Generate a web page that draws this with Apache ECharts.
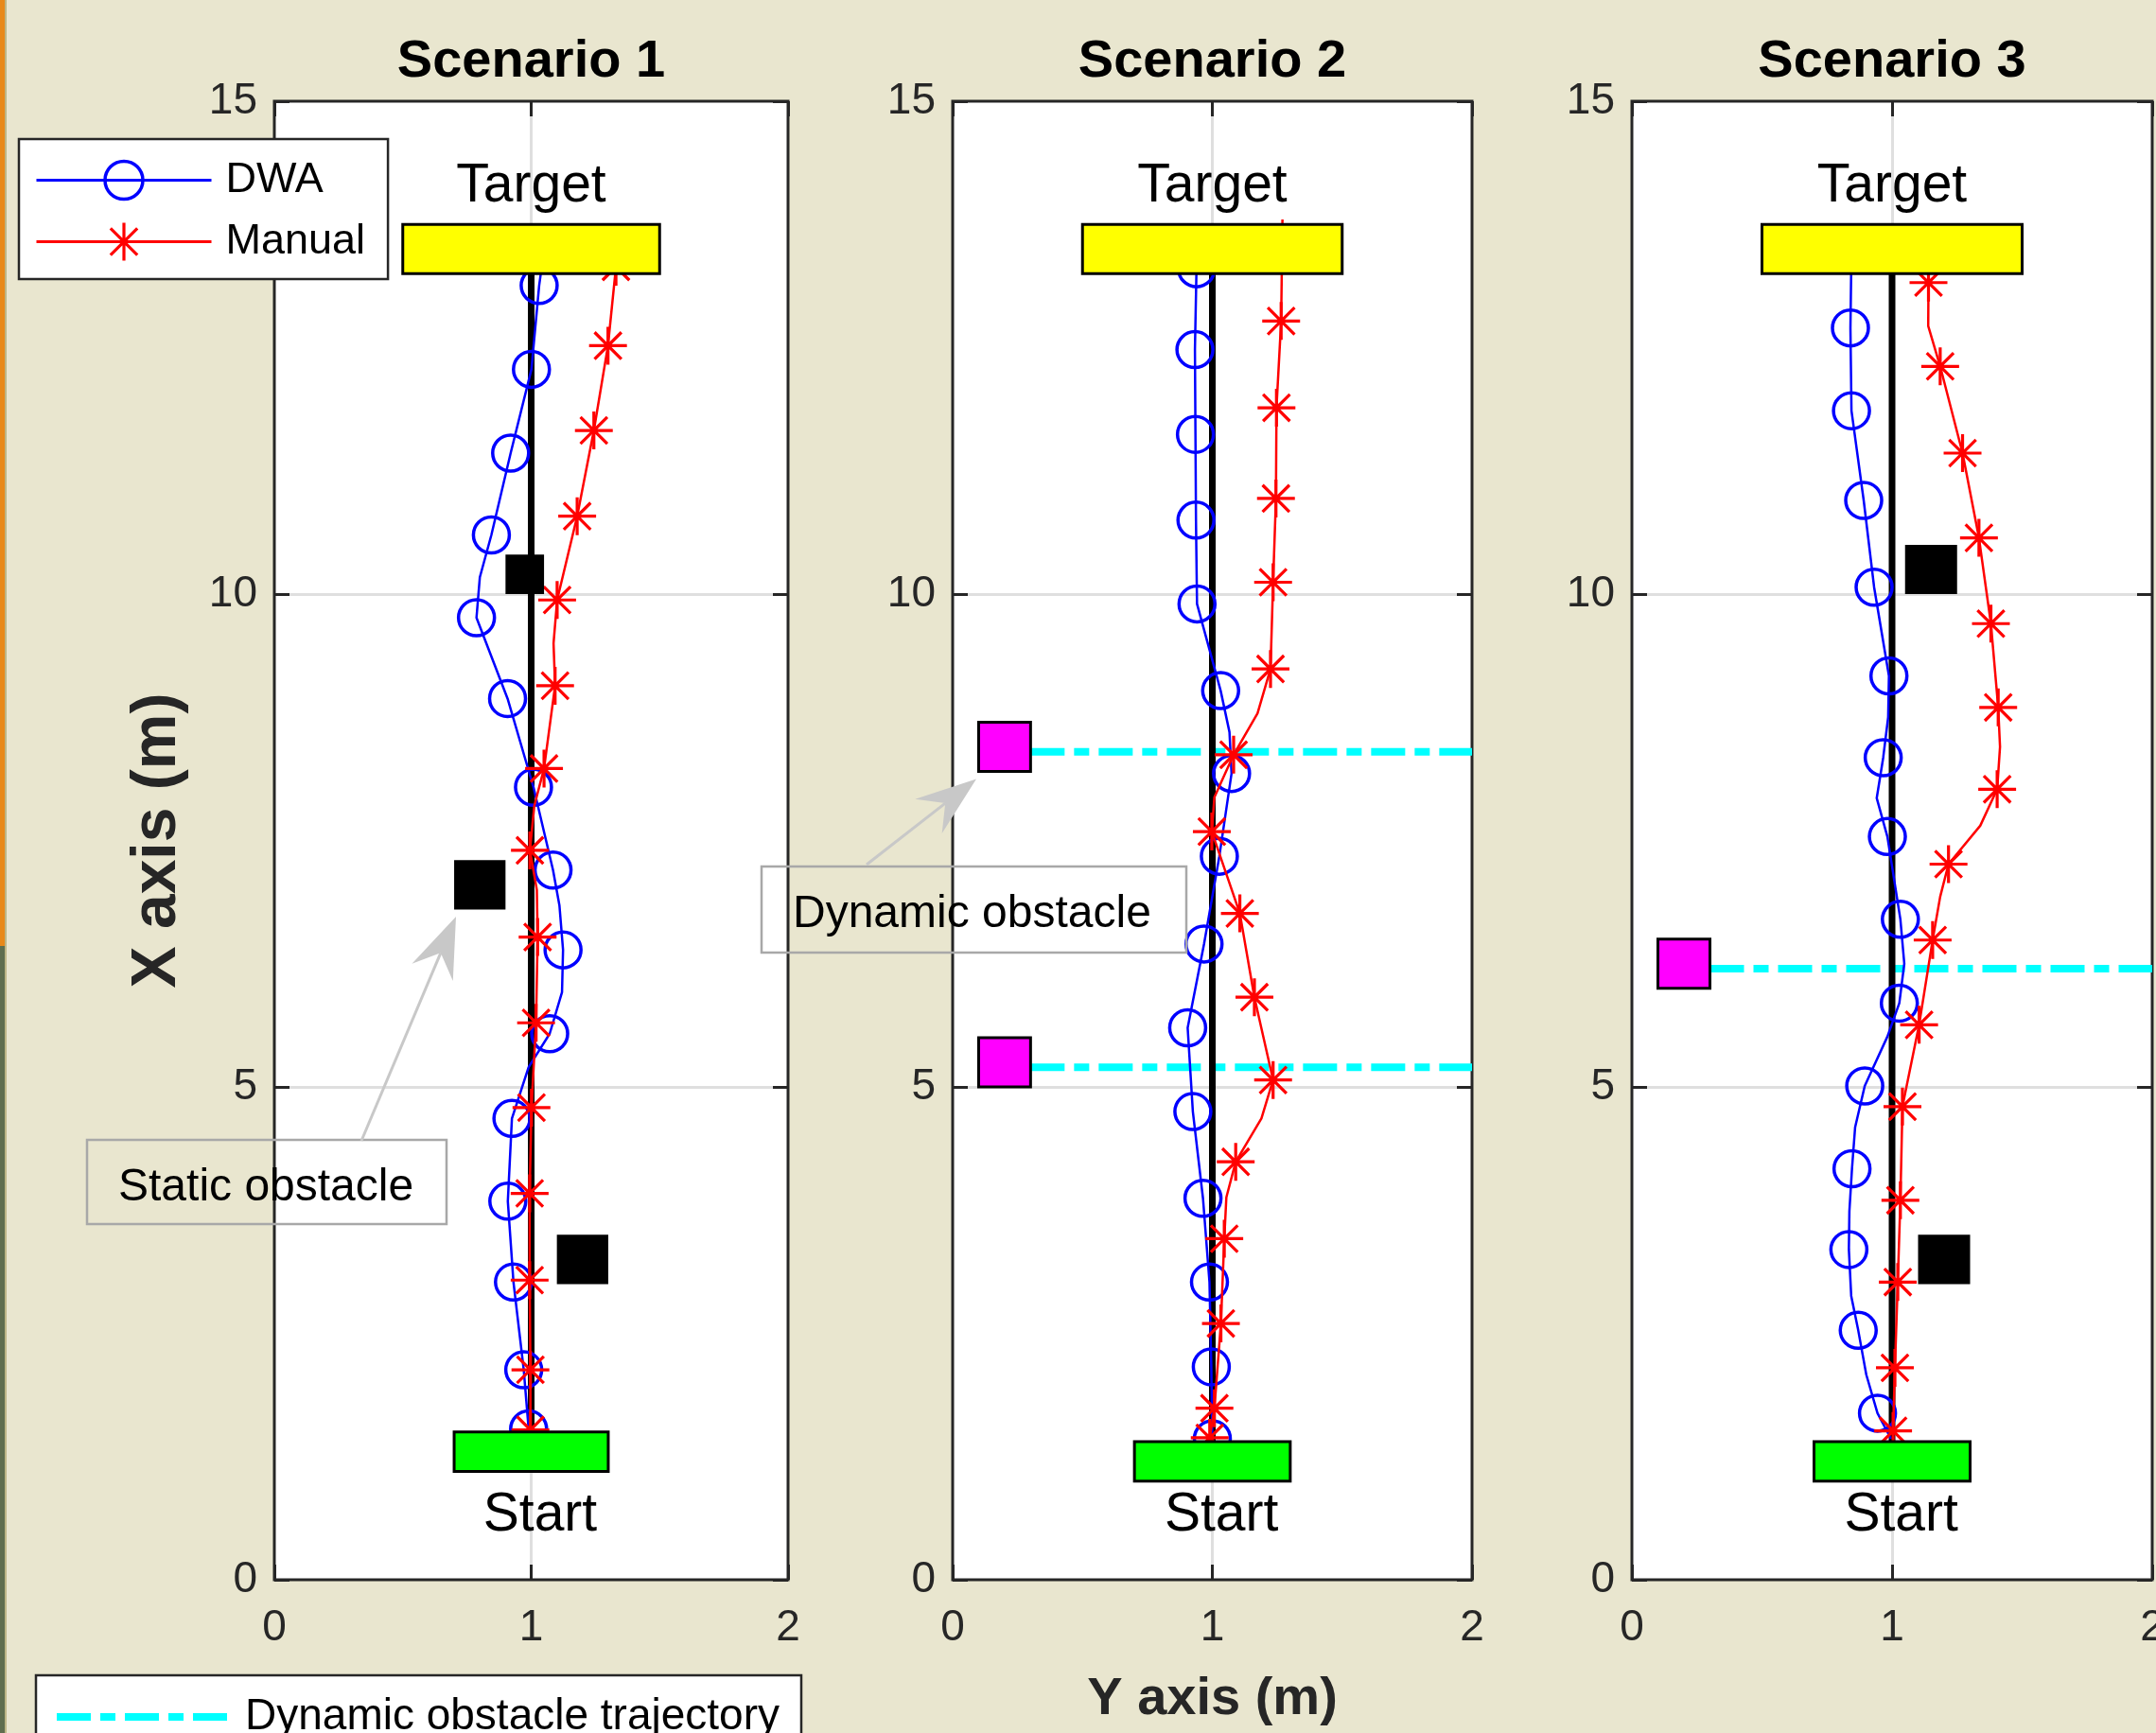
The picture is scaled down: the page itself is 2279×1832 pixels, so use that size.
<!DOCTYPE html>
<html>
<head>
<meta charset="utf-8">
<script src="https://cdn.jsdelivr.net/npm/echarts/dist/echarts.min.js"></script>
<style>
html,body{margin:0;padding:0;background:#e9e6cf;}
#chart{width:2279px;height:1832px;}
</style>
</head>
<body>
<div id="chart"></div>
<script>
// ---------------- data ----------------
const scenarioTitles = ['Scenario 1', 'Scenario 2', 'Scenario 3'];
const xTickValues = [0, 1, 2];
const yTickValues = [0, 5, 10, 15];
const xAxisTitle = 'Y axis (m)';
const yAxisTitle = 'X axis (m)';
const seriesNames = ['DWA', 'Manual', 'Dynamic obstacle trajectory'];
const placeLabelTexts = ['Target', 'Start'];
const placeLabelPos = [[1.0, 14.13], [1.035, 0.65]];

// DWA trajectory: marker points and extra bend points of the path
const dwaMarks1 = [[0.99,1.53],[0.971,2.13],[0.931,3.02],[0.909,3.84],[0.925,4.68],[1.072,5.54],[1.124,6.39],[1.085,7.20],[1.009,8.04],[0.908,8.94],[0.787,9.76],[0.845,10.60],[0.920,11.43],[1.001,12.28],[1.031,13.13]];
const dwaBends1 = [[0.99,5.2],[1.12,5.96],[1.11,6.84],[0.80,10.17],[1.04,13.3]];
const dwaMarks2 = [[1.0,1.43],[0.996,2.16],[0.989,3.02],[0.964,3.87],[0.925,4.75],[0.905,5.60],[0.968,6.45],[1.027,7.34],[1.074,8.18],[1.032,9.02],[0.941,9.90],[0.937,10.75],[0.935,11.62],[0.933,12.48],[0.939,13.30]];
const dwaBends2 = [[1.066,8.6],[0.94,13.4]];
const dwaMarks3 = [[0.944,1.69],[0.870,2.53],[0.834,3.35],[0.846,4.17],[0.895,5.01],[1.028,5.85],[1.032,6.70],[0.982,7.54],[0.966,8.34],[0.988,9.17],[0.931,10.07],[0.891,10.95],[0.844,11.86],[0.840,12.70]];
const dwaBends3 = [[0.996,1.43],[0.901,2.08],[0.843,2.88],[0.836,3.74],[0.858,4.59],[0.982,5.51],[1.047,6.25],[0.941,7.93],[0.985,8.75],[0.843,13.3]];

// Manual trajectory
const manMarks1 = [[0.997,1.52],[0.997,2.13],[0.994,3.04],[0.994,3.92],[1.001,4.79],[1.019,5.65],[1.025,6.52],[0.995,7.40],[1.050,8.23],[1.093,9.07],[1.101,9.94],[1.179,10.79],[1.244,11.66],[1.299,12.52],[1.33,13.32]];
const manBends1 = [[1.022,7.0],[1.012,7.85],[1.087,9.5],[1.336,13.5]];
const manMarks2 = [[0.99,1.44],[1.008,1.74],[1.033,2.60],[1.046,3.46],[1.09,4.24],[1.234,5.07],[1.162,5.91],[1.106,6.76],[0.998,7.59],[1.082,8.37],[1.224,9.24],[1.234,10.12],[1.245,10.97],[1.247,11.89],[1.265,12.77]];
const manBends2 = [[1.054,3.88],[1.189,4.68],[1.008,7.94],[1.174,8.79],[1.27,13.8]];
const manMarks3 = [[1.004,1.51],[1.011,2.15],[1.022,3.02],[1.032,3.85],[1.040,4.80],[1.104,5.63],[1.156,6.49],[1.217,7.26],[1.404,8.02],[1.408,8.85],[1.380,9.70],[1.334,10.57],[1.271,11.43],[1.185,12.31],[1.140,13.16]];
const manBends3 = [[1.185,6.93],[1.339,7.65],[1.415,8.45],[1.139,12.72],[1.139,13.3]];

// rectangles [x0, x1, y0, y1]
const targetRects = [[0.5,1.5,13.25,13.75],[0.5,1.5,13.25,13.75],[0.5,1.5,13.25,13.75]];
const startRects = [[0.7,1.3,1.1,1.5],[0.7,1.3,1.0,1.4],[0.7,1.3,1.0,1.4]];
const staticObstacles = [
  [[0.7,0.9,6.8,7.3],[0.9,1.05,10.0,10.4],[1.1,1.3,3.0,3.5]],
  [],
  [[1.05,1.25,10.0,10.5],[1.1,1.3,3.0,3.5]]
];
const dynamicObstacles = [
  [],
  [[0.1,0.3,8.2,8.7],[0.1,0.3,5.0,5.5]],
  [[0.1,0.3,6.0,6.5]]
];
// dynamic obstacle trajectories: [xStart, xEnd, y]
const dynamicTraj = [
  [],
  [[0.3,2,8.4],[0.3,2,5.2]],
  [[0.3,2,6.2]]
];
// reference path (start -> target) [x, yStart, yEnd]
const refPaths = [[1,1.5,13.25],[1,1.4,13.25],[1,1.4,13.25]];

const dwaMarks = [dwaMarks1, dwaMarks2, dwaMarks3];
const dwaBends = [dwaBends1, dwaBends2, dwaBends3];
const manMarks = [manMarks1, manMarks2, manMarks3];
const manBends = [manBends1, manBends2, manBends3];

// ---------------- layout / style ----------------
const FONT = '"Liberation Sans", Arial, Helvetica, sans-serif';
const gridBoxes = [{left:290,width:543},{left:1007,width:549},{left:1725,width:550}];
const GRID_TOP = 107, GRID_H = 1563;
const AX = '#262626';
const CYAN_DASH = [36,10,16,10];

const asteriskPath = 'path://M0,46 L100,46 L100,54 L0,54 Z M46,0 L54,0 L54,100 L46,100 Z ' +
  'M17.4,11.7 L88.3,82.6 L82.6,88.3 L11.7,17.4 Z M88.3,17.4 L17.4,88.3 L11.7,82.6 L82.6,11.7 Z';

function buildPath(marks, bends){
  const pts = marks.map(p => ({p, m:true})).concat(bends.map(p => ({p, m:false})));
  pts.sort((a,b) => a.p[1] - b.p[1]);
  return pts.map(o => o.m ? {value:o.p} : {value:o.p, symbol:'none'});
}

function rectSeries(i, rects, style, z){
  return {
    type:'custom', xAxisIndex:i, yAxisIndex:i, z:z, silent:true, data:rects,
    renderItem:function(params, api){
      const a = api.coord([api.value(0), api.value(3)]);
      const b = api.coord([api.value(1), api.value(2)]);
      return {type:'rect', shape:{x:a[0], y:a[1], width:b[0]-a[0], height:b[1]-a[1]}, style:Object.assign({}, style)};
    }
  };
}

function tick(){ return {show:true, inside:true, length:16, lineStyle:{color:AX, width:3}}; }
function noLine(){ return {show:false, onZero:false}; }

const grids = [], xAxes = [], yAxes = [], series = [];
for (let i = 0; i < 3; i++){
  grids.push({left:gridBoxes[i].left, width:gridBoxes[i].width, top:GRID_TOP, height:GRID_H,
    show:true, backgroundColor:'#ffffff', borderColor:AX, borderWidth:3, outerBoundsMode:'none'});
}
const xMin = xTickValues[0], xMax = xTickValues[xTickValues.length-1], xInt = xTickValues[1]-xTickValues[0];
const yMin = yTickValues[0], yMax = yTickValues[yTickValues.length-1], yInt = yTickValues[1]-yTickValues[0];
// bottom x axes (0..2)
for (let i = 0; i < 3; i++){
  xAxes.push({type:'value', gridIndex:i, position:'bottom', min:xMin, max:xMax, interval:xInt,
    axisLine:noLine(), axisTick:tick(),
    axisLabel:{fontSize:46, color:AX, margin:28, fontFamily:FONT},
    splitLine:{show:true, showMinLine:false, showMaxLine:false, lineStyle:{color:'#dfdfdf', width:3}},
    name: i === 1 ? xAxisTitle : '', nameLocation:'middle', nameGap:99,
    nameTextStyle:{fontSize:56, fontWeight:'bold', color:AX, fontFamily:FONT}});
}
// top x axes (3..5) carry the scenario titles
for (let i = 0; i < 3; i++){
  xAxes.push({type:'value', gridIndex:i, position:'top', min:xMin, max:xMax, interval:xInt,
    axisLine:noLine(), axisTick:tick(), axisLabel:{show:false}, splitLine:{show:false},
    name:scenarioTitles[i], nameLocation:'middle', nameGap:13,
    nameTextStyle:{fontSize:56, fontWeight:'bold', color:'#000', fontFamily:FONT}});
}
for (let i = 0; i < 3; i++){
  yAxes.push({type:'value', gridIndex:i, position:'left', min:yMin, max:yMax, interval:yInt,
    axisLine:noLine(), axisTick:tick(),
    axisLabel:{fontSize:46, color:AX, margin:18, fontFamily:FONT},
    splitLine:{show:true, showMinLine:false, showMaxLine:false, lineStyle:{color:'#dfdfdf', width:3}},
    name: i === 0 ? yAxisTitle : '', nameLocation:'middle', nameGap:90, nameRotate:90,
    nameTextStyle:{fontSize:66, fontWeight:'bold', color:AX, fontFamily:FONT}});
}
for (let i = 0; i < 3; i++){
  yAxes.push({type:'value', gridIndex:i, position:'right', min:yMin, max:yMax, interval:yInt,
    axisLine:noLine(), axisTick:tick(), axisLabel:{show:false}, splitLine:{show:false}});
}

for (let i = 0; i < 3; i++){
  // dynamic obstacle trajectories
  dynamicTraj[i].forEach(t => {
    series.push({type:'line', name:seriesNames[2], xAxisIndex:i, yAxisIndex:i, z:2, silent:true,
      data:[[t[0], t[2]], [t[1], t[2]]], symbol:'none',
      lineStyle:{color:'#00ffff', width:8, type:CYAN_DASH}, itemStyle:{color:'#00ffff'}});
  });
  // reference path
  series.push({type:'line', name:'reference'+i, xAxisIndex:i, yAxisIndex:i, z:3, silent:true,
    data:[[refPaths[i][0], refPaths[i][1]], [refPaths[i][0], refPaths[i][2]]], symbol:'none',
    lineStyle:{color:'#000', width:7}});
  // DWA
  series.push({type:'line', name:seriesNames[0], xAxisIndex:i, yAxisIndex:i, z:4, silent:true,
    data:buildPath(dwaMarks[i], dwaBends[i]), symbol:'circle', symbolSize:38, showAllSymbol:true,
    lineStyle:{color:'#0000ff', width:2.5},
    itemStyle:{color:'rgba(0,0,0,0)', borderColor:'#0000ff', borderWidth:3.5}});
  // Manual
  series.push({type:'line', name:seriesNames[1], xAxisIndex:i, yAxisIndex:i, z:5, silent:true,
    data:buildPath(manMarks[i], manBends[i]), symbol:asteriskPath, symbolSize:40, showAllSymbol:true,
    lineStyle:{color:'#ff0000', width:2.5},
    itemStyle:{color:'#ff0000', borderWidth:0}});
  // rectangles
  series.push(rectSeries(i, [targetRects[i]], {fill:'#ffff00', stroke:'#000', lineWidth:3}, 6));
  series.push(rectSeries(i, [startRects[i]], {fill:'#00ff00', stroke:'#000', lineWidth:3}, 6));
  series.push(rectSeries(i, staticObstacles[i], {fill:'#000'}, 6));
  series.push(rectSeries(i, dynamicObstacles[i], {fill:'#ff00ff', stroke:'#000', lineWidth:3}, 6));
  // place labels
  series.push({type:'custom', xAxisIndex:i, yAxisIndex:i, z:7, silent:true, data:placeLabelPos,
    renderItem:function(params, api){
      const c = api.coord([api.value(0), api.value(1)]);
      return {type:'text', x:c[0], y:c[1], style:{text:placeLabelTexts[params.dataIndex], fill:'#000',
        fontSize:57, fontFamily:FONT, align:'center', verticalAlign:'middle'}};
    }});
}

// annotation arrows (figure-space annotations)
function arrowGraphics(from, tip, headLen, headW, color){
  const dx = tip[0]-from[0], dy = tip[1]-from[1];
  const L = Math.hypot(dx, dy), ux = dx/L, uy = dy/L, nx = -uy, ny = ux;
  const base = [tip[0]-ux*headLen, tip[1]-uy*headLen];
  const notch = [tip[0]-ux*headLen*0.65, tip[1]-uy*headLen*0.65];
  return [
    {type:'polyline', z:10, silent:true, shape:{points:[from, notch]}, style:{stroke:color, lineWidth:3, fill:null}},
    {type:'polygon', z:10, silent:true, shape:{points:[tip, [base[0]+nx*headW/2, base[1]+ny*headW/2], notch, [base[0]-nx*headW/2, base[1]-ny*headW/2]]}, style:{fill:color}}
  ];
}

const graphics = [
  {type:'rect', z:10, silent:true, shape:{x:0,y:0,width:5,height:1000}, style:{fill:'#e8891a'}},
  {type:'rect', z:10, silent:true, shape:{x:0,y:1000,width:5,height:832}, style:{fill:'#5f6e4f'}},
  {type:'rect', z:10, silent:true, shape:{x:5,y:0,width:2,height:1832}, style:{fill:'#bdb687'}},
  {type:'rect', z:10, silent:true, shape:{x:92,y:1205,width:380,height:89}, style:{fill:null, stroke:'#a8a8a8', lineWidth:2.5}},
  {type:'text', z:10, silent:true, x:125, y:1256, style:{text:'Static obstacle', fill:'#000', fontSize:48, fontFamily:FONT, verticalAlign:'middle'}},
  {type:'rect', z:10, silent:true, shape:{x:805,y:916,width:449,height:91}, style:{fill:null, stroke:'#a8a8a8', lineWidth:2.5}},
  {type:'text', z:10, silent:true, x:838, y:967, style:{text:'Dynamic obstacle', fill:'#000', fontSize:48, fontFamily:FONT, verticalAlign:'middle'}}
].concat(arrowGraphics([382,1206],[482,969],64,47,'#c8c8c8'))
 .concat(arrowGraphics([916,914],[1032,823.5],64,46,'#c8c8c8'));

const option = {
  backgroundColor:'#e9e6cf',
  animation:false,
  textStyle:{fontFamily:FONT},
  grid:grids,
  xAxis:xAxes,
  yAxis:yAxes,
  legend:[
    {orient:'vertical', left:20, top:147, padding:[21,24,17,17], itemWidth:185, itemHeight:50, itemGap:20,
     backgroundColor:'#fff', borderColor:AX, borderWidth:2.5, borderRadius:0, selectedMode:false, z:8,
     textStyle:{fontSize:45, color:'#000', fontFamily:FONT, padding:[0,0,0,10]},
     data:[{name:seriesNames[0], itemStyle:{borderWidth:3.5}, lineStyle:{width:3}},
           {name:seriesNames[1], itemStyle:{borderWidth:0}, lineStyle:{width:3}}]},
    {orient:'vertical', left:38, top:1771, padding:[21,23,30,18], itemWidth:182, itemHeight:40,
     backgroundColor:'#fff', borderColor:AX, borderWidth:2.5, borderRadius:0, selectedMode:false, z:8,
     textStyle:{fontSize:46, color:'#000', fontFamily:FONT, padding:[0,0,0,12]},
     data:[{name:seriesNames[2], itemStyle:{opacity:0}, lineStyle:{width:8, type:CYAN_DASH, color:'#00ffff', opacity:1}}]}
  ],
  graphic:graphics,
  series:series
};
const chart = echarts.init(document.getElementById('chart'), null, {renderer:'canvas'});
chart.setOption(option);
</script>
</body>
</html>
